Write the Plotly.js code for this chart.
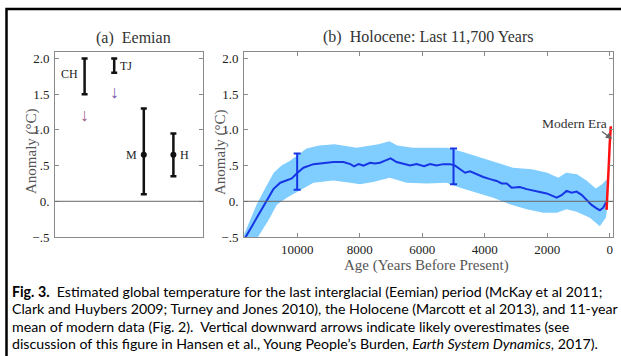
<!DOCTYPE html>
<html>
<head>
<meta charset="utf-8">
<script src="https://cdn.plot.ly/plotly-3.0.1.min.js"></script>
<style>
  html, body { margin: 0; padding: 0; background: #fff; }
  #fig { width: 621px; height: 356px; }
</style>
</head>
<body>
<div id="fig"></div>
<script>
// ---- Panel (a): Eemian estimates (°C anomaly) ----
const eemLabels = ['CH', 'TJ', 'M', 'H'];
const eemLow    = [1.5, 1.8, 0.1, 0.35];
const eemHigh   = [2.0, 2.0, 1.3, 0.95];
const eemMid    = [null, null, 0.65, 0.65];   // central estimate where one is given
const overestimateArrowY = [1.21, 1.53];      // downward arrows under CH and TJ

// ---- Panel (b): Holocene reconstruction (Marcott et al 2013) ----
const holoYears = [11700, 11290, 10970, 10760, 10540, 10330, 10170, 9990, 9800, 9480,
  9265, 8840, 8520, 8300, 8180, 8040, 7880, 7670, 7510, 7350, 7190, 7010, 6820, 6600,
  6390, 6180, 5940, 5750, 5540, 5330, 5110, 4950, 4790, 4630, 4470, 4260, 4050, 3830,
  3620, 3460, 3300, 3140, 2880, 2660, 2450, 2240, 2020, 1810, 1700, 1545, 1385, 1225,
  1065, 905, 745, 585, 425, 320, 213, 130];
const holoTemp = [-0.54, -0.23, 0.0, 0.17, 0.26, 0.29, 0.32, 0.40, 0.47, 0.52,
  0.53, 0.55, 0.55, 0.52, 0.49, 0.52, 0.50, 0.54, 0.53, 0.54, 0.57, 0.60, 0.55, 0.52,
  0.50, 0.52, 0.49, 0.52, 0.50, 0.52, 0.52, 0.50, 0.45, 0.40, 0.42, 0.38, 0.34, 0.31,
  0.285, 0.25, 0.25, 0.19, 0.20, 0.17, 0.145, 0.13, 0.11, 0.065, 0.05, 0.085, 0.145, 0.12,
  0.135, 0.09, 0.015, -0.05, -0.10, -0.125, -0.09, -0.02];

// uncertainty envelope
const upperYears = [11700, 11300, 11000, 10750, 10500, 10250, 10000, 9700, 9300, 8800,
  8400, 8100, 7800, 7400, 7050, 6800, 6300, 5750, 5200, 4700, 4200, 3700, 3100, 2500,
  2000, 1650, 1400, 1050, 750, 450, 250, 100];
const upperTemp = [-0.47, -0.05, 0.20, 0.40, 0.50, 0.56, 0.64, 0.74, 0.78, 0.80,
  0.77, 0.75, 0.77, 0.80, 0.84, 0.78, 0.75, 0.75, 0.75, 0.69, 0.62, 0.55, 0.47, 0.45,
  0.40, 0.33, 0.40, 0.38, 0.29, 0.18, 0.24, 0.31];
const lowerYears = [11700, 11210, 10900, 10650, 10330, 9900, 9480, 8850, 8300, 7990,
  7570, 7040, 6500, 5860, 5220, 4790, 4260, 3730, 3200, 2660, 2130, 1700, 1385, 1065,
  640, 320, 130, 100];
const lowerTemp = [-0.85, -0.47, -0.25, -0.05, 0.05, 0.16, 0.26, 0.29, 0.26, 0.24,
  0.27, 0.33, 0.26, 0.25, 0.26, 0.19, 0.12, 0.05, -0.04, -0.11, -0.16, -0.16, -0.11, -0.145,
  -0.23, -0.35, -0.23, -0.15];

// representative 1-sigma bars
const barYears = [10000, 5000];
const barLow   = [0.16, 0.24];
const barHigh  = [0.67, 0.74];
const barMid   = [0.42, 0.49];

// 11-year mean of modern data
const modernYears = [105, 80, 55, 30, 5, -30];
const modernTemp  = [-0.12, 0.05, 0.30, 0.55, 0.80, 1.05];

const yTickVals = [2, 1.5, 1, 0.5, 0, -0.5];
const yTickText = ['2.0', '1.5', '1.0', '.5', '0.', '\u2212.5'];
const xTickVals = [10000, 8000, 6000, 4000, 2000, 0];
const xTickText = ['10000', '8000', '6000', '4000', '2000', '0'];

// ---- helpers: pixel positions -> paper fractions (figure has zero margins) ----
const W = 621, H = 356;
const px = v => v / W;
const py = v => 1 - v / H;

const SERIF = 'Liberation Serif, Times New Roman, serif';
const SANS = 'Lato, Liberation Sans, sans-serif';
const boxGray = '#8a8a8a';

// Eemian bars: draw around the midpoint of each range
const eemCentre = eemLow.map((lo, i) => eemMid[i] !== null ? eemMid[i] : (lo + eemHigh[i]) / 2);
const eemX = eemLabels.map((_, i) => i + 1);

const traces = [
  {
    x: eemX, y: eemCentre, xaxis: 'x', yaxis: 'y', type: 'scatter', mode: 'markers',
    marker: {size: 1, color: 'rgba(0,0,0,0)'},
    error_y: {
      type: 'data', symmetric: false,
      array: eemHigh.map((h, i) => h - eemCentre[i]),
      arrayminus: eemLow.map((l, i) => eemCentre[i] - l),
      color: '#111', thickness: 2.5, width: 3
    },
    hoverinfo: 'skip', showlegend: false
  },
  {
    x: eemX, y: eemMid, xaxis: 'x', yaxis: 'y', type: 'scatter', mode: 'markers',
    marker: {size: 6, color: '#111'}, showlegend: false, hoverinfo: 'skip'
  },
  {
    // uncertainty envelope
    x: upperYears.concat(lowerYears.slice().reverse()),
    y: upperTemp.concat(lowerTemp.slice().reverse()),
    xaxis: 'x2', yaxis: 'y2', type: 'scatter', mode: 'lines',
    fill: 'toself', fillcolor: '#80cdff', line: {width: 0, color: '#80cdff'},
    showlegend: false, hoverinfo: 'skip'
  },
  {
    x: holoYears, y: holoTemp, xaxis: 'x2', yaxis: 'y2', type: 'scatter', mode: 'lines',
    line: {color: '#1636e6', width: 2}, showlegend: false, hoverinfo: 'skip'
  },
  {
    x: barYears, y: barMid, xaxis: 'x2', yaxis: 'y2', type: 'scatter', mode: 'markers',
    marker: {size: 1, color: 'rgba(0,0,0,0)'},
    error_y: {
      type: 'data', symmetric: false,
      array: barHigh.map((h, i) => h - barMid[i]),
      arrayminus: barLow.map((l, i) => barMid[i] - l),
      color: '#1636e6', thickness: 2, width: 3.5
    },
    showlegend: false, hoverinfo: 'skip'
  },
  {
    x: modernYears, y: modernTemp, xaxis: 'x2', yaxis: 'y2', type: 'scatter', mode: 'lines',
    line: {color: '#ff1010', width: 2.5}, showlegend: false, hoverinfo: 'skip'
  }
];

const tickFont = {family: SERIF, size: 13, color: '#222'};

const yAxisCommon = {
  range: [-0.5, 2.09], tickmode: 'array', tickvals: yTickVals, ticktext: yTickText,
  ticks: 'inside', ticklen: 4, tickcolor: boxGray, tickwidth: 1,
  showline: true, linecolor: boxGray, linewidth: 1, mirror: 'ticks',
  showgrid: false, zeroline: false, fixedrange: true,
  ticklabelstandoff: 2, tickfont: tickFont
};

// text placed by its centre, in figure pixels
function label(text, x, y, font, extra) {
  return Object.assign({
    text: text, x: px(x), y: py(y), xref: 'paper', yref: 'paper',
    xanchor: 'center', yanchor: 'middle', showarrow: false, font: font
  }, extra || {});
}

const titleFont = {family: SERIF, size: 16, color: '#333'};
const axisFont = {family: SERIF, size: 15, color: '#555'};
const markFont = {family: SERIF, size: 12, color: '#222'};

const annotations = [
  // panel titles
  label('(a)\u00a0\u00a0Eemian', 133, 38, titleFont),
  label('(b)\u00a0\u00a0Holocene: Last 11,700 Years', 428, 37, titleFont),
  // axis titles
  label('Anomaly (\u00b0C)', 31, 151, axisFont, {textangle: -90}),
  label('Anomaly (\u00b0C)', 221, 152, axisFont, {textangle: -90}),
  label('Age (Years Before Present)', 427, 265, axisFont),
  // Eemian source labels
  {text: 'CH', x: 1, y: 1.78, xref: 'x', yref: 'y', xanchor: 'right', yanchor: 'middle', xshift: -5,
   showarrow: false, font: markFont},
  {text: 'TJ', x: 2, y: 1.9, xref: 'x', yref: 'y', xanchor: 'left', yanchor: 'middle', xshift: 4,
   showarrow: false, font: markFont},
  {text: 'M', x: 3, y: 0.65, xref: 'x', yref: 'y', xanchor: 'right', yanchor: 'middle', xshift: -5,
   showarrow: false, font: markFont},
  {text: 'H', x: 4, y: 0.65, xref: 'x', yref: 'y', xanchor: 'left', yanchor: 'middle', xshift: 5,
   showarrow: false, font: markFont},
  // likely overestimates
  {text: '\u2193', x: 1, y: overestimateArrowY[0], xref: 'x', yref: 'y',
   xanchor: 'center', yanchor: 'middle',
   showarrow: false, font: {family: SERIF, size: 18, color: '#a0608c'}},
  {text: '\u2193', x: 2, y: overestimateArrowY[1], xref: 'x', yref: 'y',
   xanchor: 'center', yanchor: 'middle',
   showarrow: false, font: {family: SERIF, size: 18, color: '#7a58b0'}},
  // modern era label and pointer
  label('Modern Era', 609, 123, {family: SERIF, size: 13.5, color: '#333'}, {xanchor: 'right'}),
  {text: '\u00a0', x: px(612), y: py(139), xref: 'paper', yref: 'paper',
   xanchor: 'center', yanchor: 'middle',
   showarrow: true, ax: -12, ay: -9, arrowhead: 2, arrowsize: 0.9, arrowwidth: 1.4,
   arrowcolor: '#666', standoff: 0, font: {size: 2}}
];

// figure caption
const captionLines = [
  '<b>Fig. 3.</b>\u00a0 Estimated global temperature for the last interglacial (Eemian) period (McKay et al 2011;',
  'Clark and Huybers 2009; Turney and Jones 2010), the Holocene (Marcott et al 2013), and 11-year',
  'mean of modern data (Fig. 2).\u00a0 Vertical downward arrows indicate likely overestimates (see',
  'discussion of this figure in Hansen et al., Young People\u2019s Burden, <i>Earth System Dynamics</i>, 2017).'
];
const captionY = [291, 308.5, 326, 343.5];
captionLines.forEach((t, i) => annotations.push(
  label(t, 10, captionY[i], {family: SANS, size: 14.2, color: '#000'}, {xanchor: 'left', align: 'left'})
));

const layout = {
  width: W, height: H, autosize: false,
  margin: {l: 0, r: 0, t: 0, b: 0, pad: 0},
  paper_bgcolor: '#fff', plot_bgcolor: '#fff',
  showlegend: false,
  xaxis: {
    domain: [px(55), px(203)], range: [0, 5], anchor: 'y',
    showline: true, linecolor: boxGray, linewidth: 1, mirror: true,
    ticks: '', showticklabels: false, showgrid: false, zeroline: false, fixedrange: true
  },
  yaxis: Object.assign({}, yAxisCommon, {
    domain: [py(237), py(52)], anchor: 'x'
  }),
  xaxis2: {
    domain: [px(244), px(613)], range: [11700, -100], anchor: 'y2',
    tickmode: 'array', tickvals: xTickVals, ticktext: xTickText,
    ticks: 'inside', ticklen: 4, tickcolor: boxGray, tickwidth: 1,
    showline: true, linecolor: boxGray, linewidth: 1, mirror: 'ticks',
    showgrid: false, zeroline: false, fixedrange: true,
    ticklabelstandoff: 0, tickfont: tickFont
  },
  yaxis2: Object.assign({}, yAxisCommon, {
    domain: [py(237), py(52)], anchor: 'x2'
  }),
  shapes: [
    // zero reference lines
    {type: 'line', xref: 'x domain', yref: 'y', x0: 0, x1: 1, y0: 0, y1: 0,
     line: {color: '#666', width: 1}, layer: 'above'},
    {type: 'line', xref: 'x2 domain', yref: 'y2', x0: 0, x1: 1, y0: 0, y1: 0,
     line: {color: '#666', width: 1}, layer: 'above'},
    // figure frame
    {type: 'rect', xref: 'paper', yref: 'paper', x0: px(6.5), x1: px(640), y0: py(380), y1: py(9),
     line: {color: '#000', width: 2.5}, fillcolor: 'rgba(0,0,0,0)', layer: 'above'}
  ],
  annotations: annotations
};

Plotly.newPlot('fig', traces, layout, {staticPlot: true, displayModeBar: false});
</script>
</body>
</html>
